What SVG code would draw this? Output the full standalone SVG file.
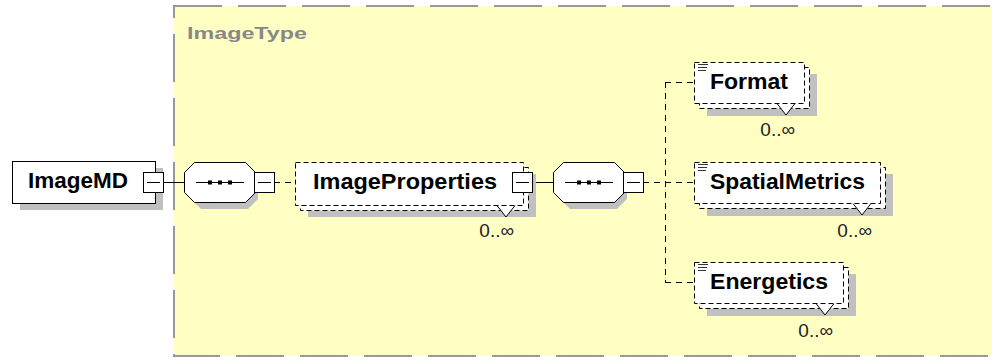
<svg xmlns="http://www.w3.org/2000/svg" width="992" height="362" viewBox="0 0 992 362">
<style>
.shadow{fill:#c0c0c0;stroke:none}
.solid{fill:#fff;stroke:#000;stroke-width:1}
.dash{fill:#fff;stroke:#000;stroke-width:1;stroke-dasharray:5 3}
.conn{fill:none;stroke:#000;stroke-width:1}
.cdash{fill:none;stroke:#000;stroke-width:1;stroke-dasharray:6 5}
.name{font-family:"Liberation Sans",Arial,sans-serif;font-weight:bold;font-size:22px;fill:#000}
.occ{font-family:"Liberation Sans",Arial,sans-serif;font-size:19px;fill:#222}
.icon{stroke:#333;stroke-width:1}
</style>
<rect x="174" y="6" width="840" height="350" fill="#ffffc4" stroke="#999" stroke-width="2" stroke-dasharray="48 16"/>
<text x="187" y="39" font-family="Liberation Sans, Arial, sans-serif" font-weight="bold" font-size="17" fill="#888" textLength="120" lengthAdjust="spacingAndGlyphs">ImageType</text>

<g id="connectors">
<line class="conn" x1="163" y1="182.5" x2="184" y2="182.5"/>
<line class="cdash" x1="274" y1="182.5" x2="295" y2="182.5"/>
<line class="conn" x1="532" y1="182.5" x2="553" y2="182.5"/>
<line class="cdash" x1="643" y1="182.5" x2="694" y2="182.5"/>
<line class="cdash" x1="665.5" y1="82" x2="665.5" y2="282"/>
<line class="cdash" x1="665" y1="82.5" x2="694" y2="82.5"/>
<line class="cdash" x1="665" y1="282.5" x2="694" y2="282.5"/>
</g>

<g id="ImageMD">
<rect class="shadow" x="20" y="168" width="143" height="42"/>
<rect class="solid" x="12.5" y="161.5" width="143" height="42"/>
<text class="name" x="28" y="188" textLength="100" lengthAdjust="spacingAndGlyphs">ImageMD</text>
<rect class="solid" x="143.5" y="172.5" width="20" height="20"/>
<line class="conn" x1="147" y1="182.5" x2="160" y2="182.5"/>
</g>

<g id="seq1">
<polygon class="shadow" points="201,169 248,169 258,179 258,199 248,209 201,209 191,199 191,179"/>
<polygon class="solid" points="194.5,162.5 245.5,162.5 255.5,172.5 255.5,192.5 245.5,202.5 194.5,202.5 184.5,192.5 184.5,172.5"/>
<line class="conn" x1="196" y1="182.5" x2="244" y2="182.5"/>
<rect x="208" y="180.5" width="4" height="4" fill="#000"/>
<rect x="218" y="180.5" width="4" height="4" fill="#000"/>
<rect x="228" y="180.5" width="4" height="4" fill="#000"/>
<rect class="solid" x="254.5" y="172.5" width="20" height="20"/>
<line class="conn" x1="258" y1="182.5" x2="271" y2="182.5"/>
</g>

<g id="ImageProperties">
<rect class="shadow" x="308" y="174" width="228" height="43"/>
<rect class="dash" x="300.5" y="167.5" width="228" height="43"/>
<polyline points="497,205.5 506,217 515,205.5" fill="#fff" stroke="#000"/>
<rect class="dash" x="295.5" y="162.5" width="228" height="43"/>
<text class="name" x="313" y="189" textLength="184" lengthAdjust="spacingAndGlyphs">ImageProperties</text>
<rect class="solid" x="512.5" y="172.5" width="20" height="20"/>
<line class="conn" x1="516" y1="182.5" x2="529" y2="182.5"/>
<text class="occ" x="514" y="237" text-anchor="end">0..∞</text>
</g>

<g id="seq2">
<polygon class="shadow" points="570,169 617,169 627,179 627,199 617,209 570,209 560,199 560,179"/>
<polygon class="solid" points="563.5,162.5 614.5,162.5 624.5,172.5 624.5,192.5 614.5,202.5 563.5,202.5 553.5,192.5 553.5,172.5"/>
<line class="conn" x1="565" y1="182.5" x2="613" y2="182.5"/>
<rect x="577" y="180.5" width="4" height="4" fill="#000"/>
<rect x="587" y="180.5" width="4" height="4" fill="#000"/>
<rect x="597" y="180.5" width="4" height="4" fill="#000"/>
<rect class="solid" x="623.5" y="172.5" width="20" height="20"/>
<line class="conn" x1="627" y1="182.5" x2="640" y2="182.5"/>
</g>

<g id="Format">
<rect class="shadow" x="707" y="74" width="110" height="42"/>
<rect class="dash" x="699.5" y="67.5" width="110" height="41"/>
<polyline points="777,103.5 786,115 795,103.5" fill="#fff" stroke="#000"/>
<rect class="dash" x="694.5" y="62.5" width="110" height="41"/>
<line class="icon" x1="698" y1="64.5" x2="708" y2="64.5"/>
<line class="icon" x1="698" y1="67.5" x2="707" y2="67.5"/>
<line class="icon" x1="698" y1="70.5" x2="706" y2="70.5"/>
<text class="name" x="710" y="89" textLength="78" lengthAdjust="spacingAndGlyphs">Format</text>
<text class="occ" x="795" y="136" text-anchor="end">0..∞</text>
</g>

<g id="SpatialMetrics">
<rect class="shadow" x="707" y="174" width="186" height="42"/>
<rect class="dash" x="699.5" y="167.5" width="186" height="41"/>
<polyline points="853,203.5 862,215 871,203.5" fill="#fff" stroke="#000"/>
<rect class="dash" x="694.5" y="162.5" width="186" height="41"/>
<line class="icon" x1="698" y1="164.5" x2="708" y2="164.5"/>
<line class="icon" x1="698" y1="167.5" x2="707" y2="167.5"/>
<line class="icon" x1="698" y1="170.5" x2="706" y2="170.5"/>
<text class="name" x="710" y="189" textLength="155" lengthAdjust="spacingAndGlyphs">SpatialMetrics</text>
<text class="occ" x="872" y="237" text-anchor="end">0..∞</text>
</g>

<g id="Energetics">
<rect class="shadow" x="707" y="274" width="149" height="42"/>
<rect class="dash" x="699.5" y="267.5" width="149" height="41"/>
<polyline points="816,303.5 825,315 834,303.5" fill="#fff" stroke="#000"/>
<rect class="dash" x="694.5" y="262.5" width="149" height="41"/>
<line class="icon" x1="698" y1="264.5" x2="708" y2="264.5"/>
<line class="icon" x1="698" y1="267.5" x2="707" y2="267.5"/>
<line class="icon" x1="698" y1="270.5" x2="706" y2="270.5"/>
<text class="name" x="710" y="289" textLength="118" lengthAdjust="spacingAndGlyphs">Energetics</text>
<text class="occ" x="833" y="337" text-anchor="end">0..∞</text>
</g>
</svg>
